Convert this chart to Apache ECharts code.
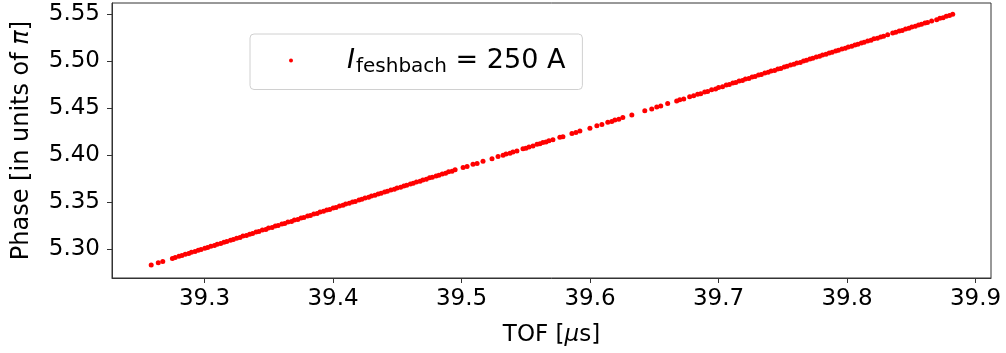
<!DOCTYPE html>
<html>
<head>
<meta charset="utf-8">
<script src="https://cdn.jsdelivr.net/npm/echarts@6/dist/echarts.min.js"></script>
<style>
  html, body { margin: 0; padding: 0; background: #fff; }
  #chart { width: 1006px; height: 353px; }
</style>
</head>
<body>
<div id="chart"></div>
<script>
// TOF [µs]
const tof = [
  39.2585, 39.2640, 39.2675,
  39.2750, 39.2772, 39.2801, 39.2824, 39.2850, 39.2877, 39.2898, 39.2926, 39.2951, 39.2973,
  39.3002, 39.3024, 39.3049, 39.3077, 39.3099, 39.3126, 39.3151, 39.3173, 39.3202, 39.3224,
  39.3250, 39.3276, 39.3299, 39.3326, 39.3351, 39.3374, 39.3401, 39.3423, 39.3450, 39.3477,
  39.3498, 39.3526, 39.3551, 39.3573, 39.3602, 39.3624, 39.3649, 39.3677, 39.3699, 39.3726,
  39.3751, 39.3773, 39.3802, 39.3824, 39.3850, 39.3876, 39.3899, 39.3926, 39.3951, 39.3974,
  39.4001, 39.4023, 39.4050, 39.4077, 39.4098, 39.4126, 39.4151, 39.4173, 39.4202, 39.4224,
  39.4249, 39.4277, 39.4299, 39.4326, 39.4351, 39.4374, 39.4401, 39.4423, 39.4450, 39.4477,
  39.4498, 39.4526, 39.4551, 39.4573, 39.4602, 39.4624, 39.4649, 39.4677, 39.4699, 39.4726,
  39.4751, 39.4773, 39.4802, 39.4824, 39.4850, 39.4876, 39.4899, 39.4926, 39.4950,
  39.5012, 39.5043, 39.5089, 39.5121, 39.5167, 39.5237, 39.5284, 39.5323, 39.5346, 39.5377,
  39.5400, 39.5431, 39.5478, 39.5501, 39.5525, 39.5556, 39.5587, 39.5610, 39.5633, 39.5657,
  39.5680, 39.5711, 39.5765, 39.5789, 39.5859, 39.5890, 39.5921, 39.5999, 39.6053, 39.6092,
  39.6138, 39.6169, 39.6193, 39.6224, 39.6255, 39.6325, 39.6426, 39.6480, 39.6519, 39.6550,
  39.6604, 39.6674, 39.6698, 39.6729, 39.6775, 39.6806, 39.6837, 39.6861, 39.6892, 39.6915,
  39.6946, 39.6977, 39.7000, 39.7031,
  39.7060, 39.7084, 39.7111, 39.7134, 39.7160, 39.7186, 39.7209, 39.7236, 39.7261, 39.7284,
  39.7311, 39.7333, 39.7360, 39.7386, 39.7409, 39.7436, 39.7461, 39.7484, 39.7511, 39.7533,
  39.7560, 39.7586, 39.7609, 39.7636, 39.7661, 39.7684, 39.7711, 39.7733, 39.7760, 39.7786,
  39.7809, 39.7836, 39.7861, 39.7884, 39.7911, 39.7933, 39.7960, 39.7986, 39.8009, 39.8036,
  39.8061, 39.8084, 39.8111, 39.8133, 39.8160, 39.8186, 39.8209, 39.8236, 39.8261, 39.8284,
  39.8316,
  39.8355, 39.8379, 39.8406, 39.8429, 39.8455, 39.8481, 39.8504, 39.8531, 39.8556, 39.8579,
  39.8606, 39.8626, 39.8658, 39.8697, 39.8722, 39.8747, 39.8772, 39.8797, 39.8822
];

// Phase [in units of π]
const phase = [
  5.2833, 5.2857, 5.2871,
  5.2901, 5.2912, 5.2926, 5.2933, 5.2948, 5.2955, 5.2969, 5.2976, 5.2990, 5.2997,
  5.3012, 5.3018, 5.3033, 5.3040, 5.3054, 5.3061, 5.3076, 5.3082, 5.3097, 5.3104,
  5.3118, 5.3125, 5.3140, 5.3146, 5.3161, 5.3168, 5.3183, 5.3189, 5.3204, 5.3211,
  5.3225, 5.3232, 5.3247, 5.3253, 5.3268, 5.3275, 5.3289, 5.3296, 5.3311, 5.3317,
  5.3332, 5.3339, 5.3353, 5.3360, 5.3375, 5.3381, 5.3396, 5.3403, 5.3417, 5.3424,
  5.3439, 5.3445, 5.3460, 5.3467, 5.3481, 5.3488, 5.3503, 5.3509, 5.3524, 5.3531,
  5.3545, 5.3552, 5.3567, 5.3573, 5.3588, 5.3595, 5.3609, 5.3616, 5.3631, 5.3637,
  5.3652, 5.3659, 5.3673, 5.3680, 5.3695, 5.3701, 5.3716, 5.3723, 5.3737, 5.3744,
  5.3759, 5.3765, 5.3780, 5.3787, 5.3801, 5.3808, 5.3823, 5.3829, 5.3844,
  5.3870, 5.3879, 5.3903, 5.3912, 5.3936, 5.3962, 5.3986, 5.3998, 5.4012, 5.4021,
  5.4035, 5.4044, 5.4068, 5.4074, 5.4088, 5.4098, 5.4115, 5.4121, 5.4134, 5.4141,
  5.4154, 5.4164, 5.4191, 5.4197, 5.4231, 5.4240, 5.4257, 5.4287, 5.4314, 5.4326,
  5.4350, 5.4359, 5.4373, 5.4383, 5.4400, 5.4426, 5.4473, 5.4492, 5.4512, 5.4522,
  5.4549, 5.4575, 5.4589, 5.4598, 5.4622, 5.4631, 5.4648, 5.4654, 5.4672, 5.4677,
  5.4695, 5.4704, 5.4718, 5.4727,
  5.4745, 5.4752, 5.4766, 5.4773, 5.4788, 5.4794, 5.4809, 5.4816, 5.4830, 5.4837,
  5.4852, 5.4858, 5.4873, 5.4880, 5.4894, 5.4901, 5.4916, 5.4922, 5.4937, 5.4944,
  5.4958, 5.4965, 5.4980, 5.4986, 5.5001, 5.5008, 5.5022, 5.5029, 5.5044, 5.5050,
  5.5065, 5.5072, 5.5086, 5.5093, 5.5108, 5.5114, 5.5129, 5.5136, 5.5150, 5.5157,
  5.5172, 5.5178, 5.5193, 5.5200, 5.5214, 5.5221, 5.5236, 5.5242, 5.5257, 5.5264,
  5.5280,
  5.5298, 5.5305, 5.5320, 5.5326, 5.5341, 5.5348, 5.5362, 5.5369, 5.5384, 5.5390,
  5.5405, 5.5409, 5.5427, 5.5440, 5.5455, 5.5461, 5.5476, 5.5483, 5.5497
];

const xTicks = [39.3, 39.4, 39.5, 39.6, 39.7, 39.8, 39.9];
const yTicks = [5.30, 5.35, 5.40, 5.45, 5.50, 5.55];

const font = "DejaVu Sans";
const points = tof.map((t, i) => [t, phase[i]]);

const myChart = echarts.init(document.getElementById("chart"));

let options = {
  animation: false,
  grid: {
    left: 112,
    right: 15,
    top: 3,
    bottom: 75,
    show: true,
    borderColor: "#333",
    borderWidth: 1,
  },
  // 图例
  legend: {
    left: 250,
    top: 34,
    padding: [13, 17, 13, 39],
    itemWidth: 4,
    itemHeight: 4,
    backgroundColor: "#fff",
    borderColor: "#d0d0d0",
    borderWidth: 1,
    borderRadius: 4,
    formatter: () => "{sp|}{it|I}{sub|feshbach}{n| = 250 A}",
    textStyle: {
      fontFamily: font,
      fontSize: 27,
      color: "#000",
      rich: {
        sp: { width: 49 },
        it: { fontFamily: font, fontSize: 27, fontStyle: "italic", color: "#000" },
        sub: { fontFamily: font, fontSize: 20, color: "#000", padding: [12, 0, 0, 1] },
        n: { fontFamily: font, fontSize: 27, color: "#000" },
      },
    },
  },
  xAxis: {
    type: "value",
    min: 39.228,
    max: 39.912,
    name: "{n|TOF [}{it|μ}{n|s]}",
    nameLocation: "middle",
    nameGap: 46,
    nameTextStyle: {
      rich: {
        n: { fontFamily: font, fontSize: 23, color: "#000" },
        it: { fontFamily: font, fontSize: 23, fontStyle: "italic", color: "#000" },
      },
    },
    splitLine: { show: false },
    axisLine: { show: true, lineStyle: { color: "#333", width: 1 } },
    axisTick: { show: true, length: 5, customValues: xTicks, lineStyle: { color: "#333" } },
    axisLabel: {
      customValues: xTicks,
      formatter: (v) => v.toFixed(1),
      fontFamily: font,
      fontSize: 23,
      color: "#000",
      margin: 10,
    },
  },
  yAxis: {
    type: "value",
    min: 5.2695,
    max: 5.5617,
    name: "{n|Phase [in units of }{it|π}{n|]}",
    nameLocation: "middle",
    nameGap: 78,
    nameTextStyle: {
      rich: {
        n: { fontFamily: font, fontSize: 24, color: "#000" },
        it: { fontFamily: font, fontSize: 24, fontStyle: "italic", color: "#000" },
      },
    },
    splitLine: { show: false },
    axisLine: { show: true, lineStyle: { color: "#333", width: 1 } },
    axisTick: { show: true, length: 5, customValues: yTicks, lineStyle: { color: "#333" } },
    axisLabel: {
      customValues: yTicks,
      formatter: (v) => v.toFixed(2),
      fontFamily: font,
      fontSize: 23,
      color: "#000",
      margin: 12,
    },
  },
  series: [
    {
      name: "I_feshbach",
      type: "scatter",
      symbol: "circle",
      symbolSize: 5,
      itemStyle: { color: "#ff0000", opacity: 1 },
      data: points,
    },
  ],
};

myChart.setOption(options);
</script>
</body>
</html>
